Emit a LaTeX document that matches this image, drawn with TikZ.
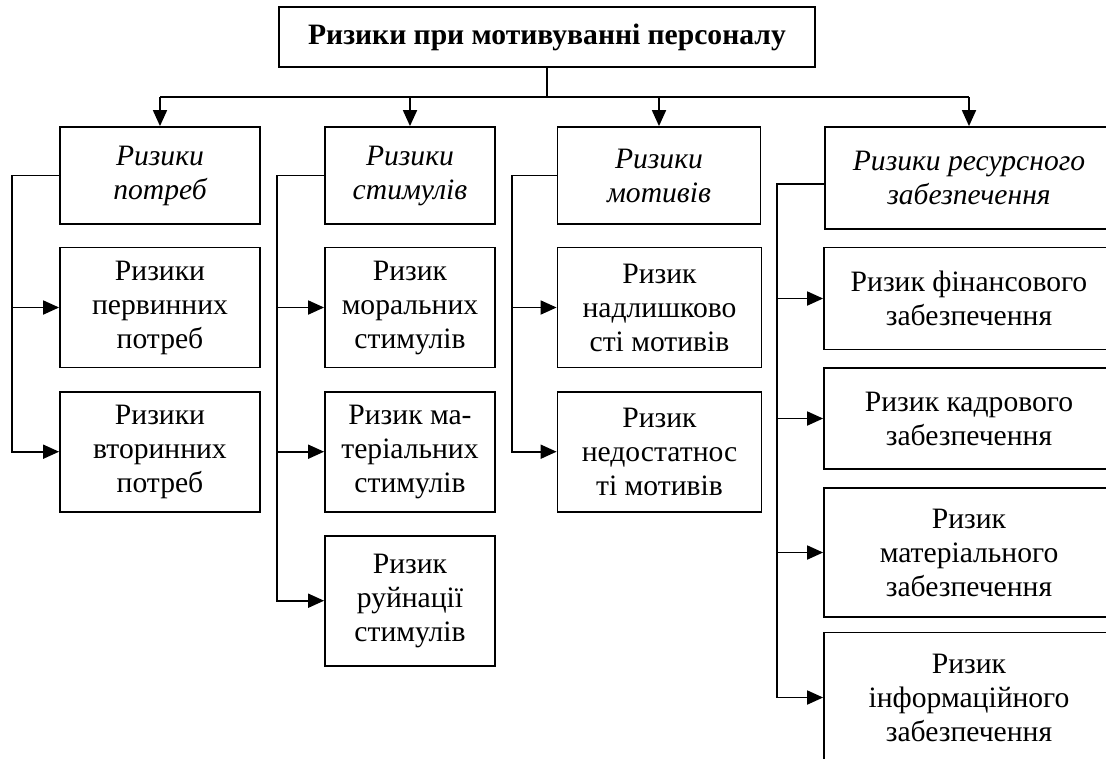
\documentclass[tikz,border=0pt]{standalone}
\usepackage{fontspec}
\setmainfont{Liberation Serif}
\usetikzlibrary{arrows.meta}
\begin{document}
\begin{tikzpicture}[x=1pt,y=-1pt,
  box/.style={draw, line width=1.8pt, inner sep=0pt, align=center, font=\fontsize{29.6}{34}\selectfont},
  lvl2/.style={box, font=\fontsize{29.6}{34}\selectfont\itshape},
  conn/.style={line width=1.8pt},
  arr/.style={conn, -{Triangle[length=16pt,width=14pt]}}]
\useasboundingbox (0,0) rectangle (1106,758);
\clip (0,0) rectangle (1106,758);
\node[box, font=\fontsize{29.6}{34}\selectfont\bfseries, minimum width=536pt, minimum height=60pt] (title) at (547,37) {Ризики при мотивуванні персоналу};
% level 2
\node[lvl2, minimum width=200pt, minimum height=97pt] (b1) at (160,175.5) {Ризики\\потреб};
\node[lvl2, minimum width=170pt, minimum height=97pt] (b2) at (410,175.5) {Ризики\\стимулів};
\node[lvl2, minimum width=203pt, minimum height=97pt] (b3) at (659,175.5) {Ризики\\мотивів};
\node[lvl2, minimum width=288pt, minimum height=102pt] (b4) at (969,178) {Ризики ресурсного\\забезпечення};
% column 1
\node[box, minimum width=200pt, minimum height=120pt] (p1) at (160,307.5) {Ризики\\первинних\\потреб};
\node[box, minimum width=200pt, minimum height=120pt] (p2) at (160,451.7) {Ризики\\вторинних\\потреб};
% column 2
\node[box, minimum width=170pt, minimum height=120pt] (s1) at (410,307.5) {Ризик\\моральних\\стимулів};
\node[box, minimum width=170pt, minimum height=120pt] (s2) at (410,451.7) {Ризик ма-\\теріальних\\стимулів};
\node[box, minimum width=170pt, minimum height=130pt] (s3) at (410,600.7) {Ризик\\руйнації\\стимулів};
% column 3
\node[box, minimum width=204pt, minimum height=120pt] (m1) at (659.5,307.5) {Ризик\\надлишково\\сті мотивів};
\node[box, minimum width=204pt, minimum height=120pt] (m2) at (659.5,451.7) {Ризик\\недостатнос\\ті мотивів};
% column 4
\node[box, minimum width=290pt, minimum height=102pt] (r1) at (969,298.5) {Ризик фінансового\\забезпечення};
\node[box, minimum width=290pt, minimum height=101pt] (r2) at (969,418.5) {Ризик кадрового\\забезпечення};
\node[box, minimum width=290pt, minimum height=129pt] (r3) at (969,552.5) {Ризик\\матеріального\\забезпечення};
\node[box, minimum width=290pt, minimum height=130pt] (r4) at (969,697.5) {Ризик\\інформаційного\\забезпечення};
% branch coordinates
\coordinate (x1) at (12,0);
\coordinate (x2) at (277,0);
\coordinate (x3) at (512,0);
\coordinate (x4) at (777,0);
\coordinate (bus) at (547,97);
\coordinate (b4w) at ([yshift=-6pt]b4.west);
% top connectors
\draw[conn] (title.south) -- (bus);
\draw[conn] (b1.north |- bus) -- (b4.north |- bus);
\draw[arr] (b1.north |- bus) -- (b1.north);
\draw[arr] (b2.north |- bus) -- (b2.north);
\draw[arr] (b3.north |- bus) -- (b3.north);
\draw[arr] (b4.north |- bus) -- (b4.north);
% column 1
\draw[arr] (b1.west) -- (b1.west -| x1) |- (p2.west);
\draw[arr] (p1.west -| x1) -- (p1.west);
% column 2
\draw[arr] (b2.west) -- (b2.west -| x2) |- (s3.west);
\draw[arr] (s1.west -| x2) -- (s1.west);
\draw[arr] (s2.west -| x2) -- (s2.west);
% column 3
\draw[arr] (b3.west) -- (b3.west -| x3) |- (m2.west);
\draw[arr] (m1.west -| x3) -- (m1.west);
% column 4
\draw[arr] (b4w) -- (b4w -| x4) |- (r4.west);
\draw[arr] (r1.west -| x4) -- (r1.west);
\draw[arr] (r2.west -| x4) -- (r2.west);
\draw[arr] (r3.west -| x4) -- (r3.west);
\end{tikzpicture}
\end{document}
